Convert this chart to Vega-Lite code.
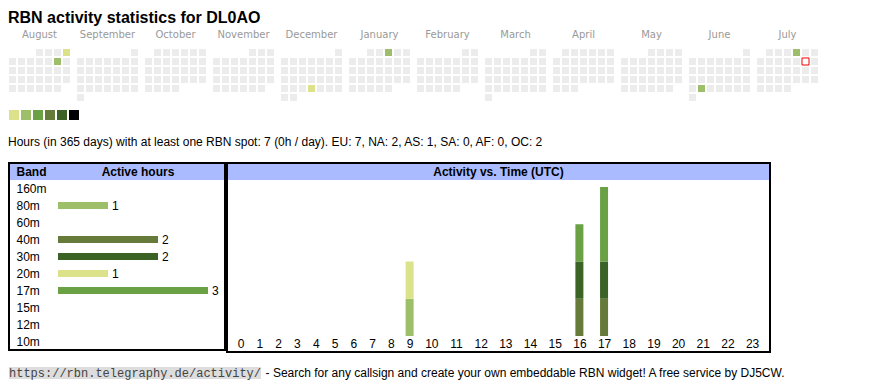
{
"$schema": "https://vega.github.io/schema/vega-lite/v6.json",
"background": "white",
"padding": {"left": 8, "top": 10, "right": 5, "bottom": 2},
"config": {"font": "Liberation Sans", "view": {"stroke": null}, "title": {"fontSize": 16}},
"title": {"text": "RBN activity statistics for DL0AO", "anchor": "start", "fontSize": 16, "fontWeight": "bold", "font": "Liberation Sans", "color": "#000", "offset": 4},
"datasets": {
"cal": [
{"m":"August","r":0,"c":3},{"m":"August","r":0,"c":4},{"m":"August","r":0,"c":5},{"m":"August","r":0,"c":6,"v":1},
{"m":"August","r":1,"c":0},{"m":"August","r":1,"c":1},{"m":"August","r":1,"c":2},{"m":"August","r":1,"c":3},{"m":"August","r":1,"c":4},{"m":"August","r":1,"c":5,"v":2},{"m":"August","r":1,"c":6},
{"m":"August","r":2,"c":0},{"m":"August","r":2,"c":1},{"m":"August","r":2,"c":2},{"m":"August","r":2,"c":3},{"m":"August","r":2,"c":4},{"m":"August","r":2,"c":5},{"m":"August","r":2,"c":6},
{"m":"August","r":3,"c":0},{"m":"August","r":3,"c":1},{"m":"August","r":3,"c":2},{"m":"August","r":3,"c":3},{"m":"August","r":3,"c":4},{"m":"August","r":3,"c":5},{"m":"August","r":3,"c":6},
{"m":"August","r":4,"c":0},{"m":"August","r":4,"c":1},{"m":"August","r":4,"c":2},{"m":"August","r":4,"c":3},{"m":"August","r":4,"c":4},{"m":"August","r":4,"c":5},
{"m":"September","r":0,"c":6},
{"m":"September","r":1,"c":0},{"m":"September","r":1,"c":1},{"m":"September","r":1,"c":2},{"m":"September","r":1,"c":3},{"m":"September","r":1,"c":4},{"m":"September","r":1,"c":5},{"m":"September","r":1,"c":6},
{"m":"September","r":2,"c":0},{"m":"September","r":2,"c":1},{"m":"September","r":2,"c":2},{"m":"September","r":2,"c":3},{"m":"September","r":2,"c":4},{"m":"September","r":2,"c":5},{"m":"September","r":2,"c":6},
{"m":"September","r":3,"c":0},{"m":"September","r":3,"c":1},{"m":"September","r":3,"c":2},{"m":"September","r":3,"c":3},{"m":"September","r":3,"c":4},{"m":"September","r":3,"c":5},{"m":"September","r":3,"c":6},
{"m":"September","r":4,"c":0},{"m":"September","r":4,"c":1},{"m":"September","r":4,"c":2},{"m":"September","r":4,"c":3},{"m":"September","r":4,"c":4},{"m":"September","r":4,"c":5},{"m":"September","r":4,"c":6},
{"m":"September","r":5,"c":0},
{"m":"October","r":0,"c":1},{"m":"October","r":0,"c":2},{"m":"October","r":0,"c":3},{"m":"October","r":0,"c":4},{"m":"October","r":0,"c":5},{"m":"October","r":0,"c":6},
{"m":"October","r":1,"c":0},{"m":"October","r":1,"c":1},{"m":"October","r":1,"c":2},{"m":"October","r":1,"c":3},{"m":"October","r":1,"c":4},{"m":"October","r":1,"c":5},{"m":"October","r":1,"c":6},
{"m":"October","r":2,"c":0},{"m":"October","r":2,"c":1},{"m":"October","r":2,"c":2},{"m":"October","r":2,"c":3},{"m":"October","r":2,"c":4},{"m":"October","r":2,"c":5},{"m":"October","r":2,"c":6},
{"m":"October","r":3,"c":0},{"m":"October","r":3,"c":1},{"m":"October","r":3,"c":2},{"m":"October","r":3,"c":3},{"m":"October","r":3,"c":4},{"m":"October","r":3,"c":5},{"m":"October","r":3,"c":6},
{"m":"October","r":4,"c":0},{"m":"October","r":4,"c":1},{"m":"October","r":4,"c":2},{"m":"October","r":4,"c":3},
{"m":"November","r":0,"c":4},{"m":"November","r":0,"c":5},{"m":"November","r":0,"c":6},
{"m":"November","r":1,"c":0},{"m":"November","r":1,"c":1},{"m":"November","r":1,"c":2},{"m":"November","r":1,"c":3},{"m":"November","r":1,"c":4},{"m":"November","r":1,"c":5},{"m":"November","r":1,"c":6},
{"m":"November","r":2,"c":0},{"m":"November","r":2,"c":1},{"m":"November","r":2,"c":2},{"m":"November","r":2,"c":3},{"m":"November","r":2,"c":4},{"m":"November","r":2,"c":5},{"m":"November","r":2,"c":6},
{"m":"November","r":3,"c":0},{"m":"November","r":3,"c":1},{"m":"November","r":3,"c":2},{"m":"November","r":3,"c":3},{"m":"November","r":3,"c":4},{"m":"November","r":3,"c":5},{"m":"November","r":3,"c":6},
{"m":"November","r":4,"c":0},{"m":"November","r":4,"c":1},{"m":"November","r":4,"c":2},{"m":"November","r":4,"c":3},{"m":"November","r":4,"c":4},{"m":"November","r":4,"c":5},
{"m":"December","r":0,"c":6},
{"m":"December","r":1,"c":0},{"m":"December","r":1,"c":1},{"m":"December","r":1,"c":2},{"m":"December","r":1,"c":3},{"m":"December","r":1,"c":4},{"m":"December","r":1,"c":5},{"m":"December","r":1,"c":6},
{"m":"December","r":2,"c":0},{"m":"December","r":2,"c":1},{"m":"December","r":2,"c":2},{"m":"December","r":2,"c":3},{"m":"December","r":2,"c":4},{"m":"December","r":2,"c":5},{"m":"December","r":2,"c":6},
{"m":"December","r":3,"c":0},{"m":"December","r":3,"c":1},{"m":"December","r":3,"c":2},{"m":"December","r":3,"c":3},{"m":"December","r":3,"c":4},{"m":"December","r":3,"c":5},{"m":"December","r":3,"c":6},
{"m":"December","r":4,"c":0},{"m":"December","r":4,"c":1},{"m":"December","r":4,"c":2},{"m":"December","r":4,"c":3,"v":1},{"m":"December","r":4,"c":4},{"m":"December","r":4,"c":5},{"m":"December","r":4,"c":6},
{"m":"December","r":5,"c":0},{"m":"December","r":5,"c":1},
{"m":"January","r":0,"c":2},{"m":"January","r":0,"c":3},{"m":"January","r":0,"c":4,"v":2},{"m":"January","r":0,"c":5},{"m":"January","r":0,"c":6},
{"m":"January","r":1,"c":0},{"m":"January","r":1,"c":1},{"m":"January","r":1,"c":2},{"m":"January","r":1,"c":3},{"m":"January","r":1,"c":4},{"m":"January","r":1,"c":5},{"m":"January","r":1,"c":6},
{"m":"January","r":2,"c":0},{"m":"January","r":2,"c":1},{"m":"January","r":2,"c":2},{"m":"January","r":2,"c":3},{"m":"January","r":2,"c":4},{"m":"January","r":2,"c":5},{"m":"January","r":2,"c":6},
{"m":"January","r":3,"c":0},{"m":"January","r":3,"c":1},{"m":"January","r":3,"c":2},{"m":"January","r":3,"c":3},{"m":"January","r":3,"c":4},{"m":"January","r":3,"c":5},{"m":"January","r":3,"c":6},
{"m":"January","r":4,"c":0},{"m":"January","r":4,"c":1},{"m":"January","r":4,"c":2},{"m":"January","r":4,"c":3},{"m":"January","r":4,"c":4},
{"m":"February","r":0,"c":5},{"m":"February","r":0,"c":6},
{"m":"February","r":1,"c":0},{"m":"February","r":1,"c":1},{"m":"February","r":1,"c":2},{"m":"February","r":1,"c":3},{"m":"February","r":1,"c":4},{"m":"February","r":1,"c":5},{"m":"February","r":1,"c":6},
{"m":"February","r":2,"c":0},{"m":"February","r":2,"c":1},{"m":"February","r":2,"c":2},{"m":"February","r":2,"c":3},{"m":"February","r":2,"c":4},{"m":"February","r":2,"c":5},{"m":"February","r":2,"c":6},
{"m":"February","r":3,"c":0},{"m":"February","r":3,"c":1},{"m":"February","r":3,"c":2},{"m":"February","r":3,"c":3},{"m":"February","r":3,"c":4},{"m":"February","r":3,"c":5},{"m":"February","r":3,"c":6},
{"m":"February","r":4,"c":0},{"m":"February","r":4,"c":1},{"m":"February","r":4,"c":2},{"m":"February","r":4,"c":3},{"m":"February","r":4,"c":4},
{"m":"March","r":0,"c":5},{"m":"March","r":0,"c":6},
{"m":"March","r":1,"c":0},{"m":"March","r":1,"c":1},{"m":"March","r":1,"c":2},{"m":"March","r":1,"c":3},{"m":"March","r":1,"c":4},{"m":"March","r":1,"c":5},{"m":"March","r":1,"c":6},
{"m":"March","r":2,"c":0},{"m":"March","r":2,"c":1},{"m":"March","r":2,"c":2},{"m":"March","r":2,"c":3},{"m":"March","r":2,"c":4},{"m":"March","r":2,"c":5},{"m":"March","r":2,"c":6},
{"m":"March","r":3,"c":0},{"m":"March","r":3,"c":1},{"m":"March","r":3,"c":2},{"m":"March","r":3,"c":3},{"m":"March","r":3,"c":4},{"m":"March","r":3,"c":5},{"m":"March","r":3,"c":6},
{"m":"March","r":4,"c":0},{"m":"March","r":4,"c":1},{"m":"March","r":4,"c":2},{"m":"March","r":4,"c":3},{"m":"March","r":4,"c":4},{"m":"March","r":4,"c":5},{"m":"March","r":4,"c":6},
{"m":"March","r":5,"c":0},
{"m":"April","r":0,"c":1},{"m":"April","r":0,"c":2},{"m":"April","r":0,"c":3},{"m":"April","r":0,"c":4},{"m":"April","r":0,"c":5},{"m":"April","r":0,"c":6},
{"m":"April","r":1,"c":0},{"m":"April","r":1,"c":1},{"m":"April","r":1,"c":2},{"m":"April","r":1,"c":3},{"m":"April","r":1,"c":4},{"m":"April","r":1,"c":5},{"m":"April","r":1,"c":6},
{"m":"April","r":2,"c":0},{"m":"April","r":2,"c":1},{"m":"April","r":2,"c":2},{"m":"April","r":2,"c":3},{"m":"April","r":2,"c":4},{"m":"April","r":2,"c":5},{"m":"April","r":2,"c":6},
{"m":"April","r":3,"c":0},{"m":"April","r":3,"c":1},{"m":"April","r":3,"c":2},{"m":"April","r":3,"c":3},{"m":"April","r":3,"c":4},{"m":"April","r":3,"c":5},{"m":"April","r":3,"c":6},
{"m":"April","r":4,"c":0},{"m":"April","r":4,"c":1},{"m":"April","r":4,"c":2},
{"m":"May","r":0,"c":3},{"m":"May","r":0,"c":4},{"m":"May","r":0,"c":5},{"m":"May","r":0,"c":6},
{"m":"May","r":1,"c":0},{"m":"May","r":1,"c":1},{"m":"May","r":1,"c":2},{"m":"May","r":1,"c":3},{"m":"May","r":1,"c":4},{"m":"May","r":1,"c":5},{"m":"May","r":1,"c":6},
{"m":"May","r":2,"c":0},{"m":"May","r":2,"c":1},{"m":"May","r":2,"c":2},{"m":"May","r":2,"c":3},{"m":"May","r":2,"c":4},{"m":"May","r":2,"c":5},{"m":"May","r":2,"c":6},
{"m":"May","r":3,"c":0},{"m":"May","r":3,"c":1},{"m":"May","r":3,"c":2},{"m":"May","r":3,"c":3},{"m":"May","r":3,"c":4},{"m":"May","r":3,"c":5},{"m":"May","r":3,"c":6},
{"m":"May","r":4,"c":0},{"m":"May","r":4,"c":1},{"m":"May","r":4,"c":2},{"m":"May","r":4,"c":3},{"m":"May","r":4,"c":4},{"m":"May","r":4,"c":5},
{"m":"June","r":0,"c":6},
{"m":"June","r":1,"c":0},{"m":"June","r":1,"c":1},{"m":"June","r":1,"c":2},{"m":"June","r":1,"c":3},{"m":"June","r":1,"c":4},{"m":"June","r":1,"c":5},{"m":"June","r":1,"c":6},
{"m":"June","r":2,"c":0},{"m":"June","r":2,"c":1},{"m":"June","r":2,"c":2},{"m":"June","r":2,"c":3},{"m":"June","r":2,"c":4},{"m":"June","r":2,"c":5},{"m":"June","r":2,"c":6},
{"m":"June","r":3,"c":0},{"m":"June","r":3,"c":1},{"m":"June","r":3,"c":2},{"m":"June","r":3,"c":3},{"m":"June","r":3,"c":4},{"m":"June","r":3,"c":5},{"m":"June","r":3,"c":6},
{"m":"June","r":4,"c":0},{"m":"June","r":4,"c":1,"v":2},{"m":"June","r":4,"c":2},{"m":"June","r":4,"c":3},{"m":"June","r":4,"c":4},{"m":"June","r":4,"c":5},{"m":"June","r":4,"c":6},
{"m":"June","r":5,"c":0},
{"m":"July","r":0,"c":1},{"m":"July","r":0,"c":2},{"m":"July","r":0,"c":3},{"m":"July","r":0,"c":4,"v":2},{"m":"July","r":0,"c":5},{"m":"July","r":0,"c":6},
{"m":"July","r":1,"c":0},{"m":"July","r":1,"c":1},{"m":"July","r":1,"c":2},{"m":"July","r":1,"c":3},{"m":"July","r":1,"c":4},{"m":"July","r":1,"c":5,"v":-1},{"m":"July","r":1,"c":6},
{"m":"July","r":2,"c":0},{"m":"July","r":2,"c":1},{"m":"July","r":2,"c":2},{"m":"July","r":2,"c":3},{"m":"July","r":2,"c":4},{"m":"July","r":2,"c":5},{"m":"July","r":2,"c":6},
{"m":"July","r":3,"c":0},{"m":"July","r":3,"c":1},{"m":"July","r":3,"c":2},{"m":"July","r":3,"c":3},{"m":"July","r":3,"c":4},{"m":"July","r":3,"c":5},{"m":"July","r":3,"c":6},
{"m":"July","r":4,"c":0},{"m":"July","r":4,"c":1},{"m":"July","r":4,"c":2},{"m":"July","r":4,"c":3}
],
"bands": [{"band":"80m","hours":1},{"band":"40m","hours":2},{"band":"30m","hours":2},{"band":"20m","hours":1},{"band":"17m","hours":3}],
"hourly": [{"hour":9,"band":"80m","w":80,"n":1},{"hour":9,"band":"20m","w":20,"n":1},{"hour":16,"band":"40m","w":40,"n":1},{"hour":16,"band":"30m","w":30,"n":1},{"hour":16,"band":"17m","w":17,"n":1},{"hour":17,"band":"40m","w":40,"n":1},{"hour":17,"band":"30m","w":30,"n":1},{"hour":17,"band":"17m","w":17,"n":2}],
"levels": [{"lv":1},{"lv":2},{"lv":3},{"lv":4},{"lv":5},{"lv":6}]
},
"resolve": {"scale": {"color": "independent", "fill": "independent"}},
"spacing": 16,
"vconcat": [
{
"spacing": 9,
"vconcat": [
{
"data": {"name": "cal"},
"facet": {"column": {"field": "m", "type": "nominal", "sort": ["August","September","October","November","December","January","February","March","April","May","June","July"], "header": {"title": null, "labelFont": "DejaVu Sans", "labelFontSize": 10, "labelColor": "#999999", "labelPadding": 8}}},
"spacing": {"column": 6},
"spec": {
"width": 61, "height": 52,
"layer": [
{"mark": {"type": "rect", "fill": "#ececec"},
"encoding": {
"x": {"field": "c", "type": "ordinal", "scale": {"domain": [0,1,2,3,4,5,6], "paddingInner": 0.2222, "paddingOuter": 0}, "axis": null},
"y": {"field": "r", "type": "ordinal", "scale": {"domain": [0,1,2,3,4,5], "paddingInner": 0.2222, "paddingOuter": 0}, "axis": null}}},
{"transform": [{"filter": "isValid(datum.v)"}],
"mark": {"type": "rect", "strokeWidth": 1},
"encoding": {
"x": {"field": "c", "type": "ordinal", "scale": {"domain": [0,1,2,3,4,5,6], "paddingInner": 0.2222, "paddingOuter": 0}, "axis": null},
"y": {"field": "r", "type": "ordinal", "scale": {"domain": [0,1,2,3,4,5], "paddingInner": 0.2222, "paddingOuter": 0}, "axis": null},
"fill": {"condition": [{"test": "datum.v === 1", "value": "#dbe28a"}, {"test": "datum.v === 2", "value": "#9dbf6a"}], "value": "#ffffff"},
"stroke": {"condition": {"test": "datum.v < 0", "value": "#ee0000"}, "value": "transparent"}}}
]
}
},
{
"data": {"name": "levels"},
"width": 70, "height": 10,
"mark": "rect",
"encoding": {
"x": {"field": "lv", "type": "ordinal", "scale": {"paddingInner": 0.1667, "paddingOuter": 0}, "axis": null},
"color": {"field": "lv", "type": "ordinal", "scale": {"domain": [1,2,3,4,5,6], "range": ["#dbe28a","#9dbf6a","#6aa145","#667a3a","#3b6326","#000000"]}, "legend": null}
}
}
]
},
{
"spacing": 14,
"vconcat": [
{
"title": {"text": "Hours (in 365 days) with at least one RBN spot: 7 (0h / day). EU: 7, NA: 2, AS: 1, SA: 0, AF: 0, OC: 2", "anchor": "start", "fontSize": 12, "fontWeight": "normal", "font": "Liberation Sans", "color": "#000", "offset": 13},
"spacing": 0,
"hconcat": [
{
"width": 216, "height": 187,
"layer": [
{"data": {"values": [{"band": "Band"}]}, "mark": {"type": "rect", "fill": "#aabbff"},
"encoding": {"y": {"field": "band", "type": "nominal", "scale": {"domain": ["Band","160m","80m","60m","40m","30m","20m","17m","15m","12m","10m"], "paddingInner": 0, "paddingOuter": 0}, "axis": {"orient": "left", "title": null, "domain": false, "ticks": false, "tickSize": 0, "grid": false, "labelPadding": -7, "labelAlign": "left", "labelFontSize": 12, "labelFont": "Liberation Sans", "labelColor": "#000", "labelFontWeight": {"condition": {"test": "datum.value === 'Band'", "value": "bold"}, "value": "normal"}, "zindex": 1}}}},
{"data": {"values": [{"band": "Band"}]}, "mark": {"type": "text", "text": "Active hours", "fontWeight": "bold", "fontSize": 12, "color": "#000"},
"encoding": {"y": {"field": "band", "type": "nominal", "scale": {"domain": ["Band","160m","80m","60m","40m","30m","20m","17m","15m","12m","10m"], "paddingInner": 0, "paddingOuter": 0}, "axis": {"orient": "left", "title": null, "domain": false, "ticks": false, "tickSize": 0, "grid": false, "labelPadding": -7, "labelAlign": "left", "labelFontSize": 12, "labelFont": "Liberation Sans", "labelColor": "#000", "labelFontWeight": {"condition": {"test": "datum.value === 'Band'", "value": "bold"}, "value": "normal"}, "zindex": 1}},
"x": {"datum": 1.6, "type": "quantitative", "scale": {"domain": [-0.98, 3.34], "nice": false, "zero": false}, "axis": null}}},
{"data": {"name": "bands"}, "mark": {"type": "bar", "height": 7},
"encoding": {"y": {"field": "band", "type": "nominal", "scale": {"domain": ["Band","160m","80m","60m","40m","30m","20m","17m","15m","12m","10m"], "paddingInner": 0, "paddingOuter": 0}, "axis": {"orient": "left", "title": null, "domain": false, "ticks": false, "tickSize": 0, "grid": false, "labelPadding": -7, "labelAlign": "left", "labelFontSize": 12, "labelFont": "Liberation Sans", "labelColor": "#000", "labelFontWeight": {"condition": {"test": "datum.value === 'Band'", "value": "bold"}, "value": "normal"}, "zindex": 1}},
"x": {"field": "hours", "type": "quantitative", "scale": {"domain": [-0.98, 3.34], "nice": false, "zero": false}, "axis": null},
"color": {"field": "band", "type": "nominal", "scale": {"domain": ["80m","40m","30m","20m","17m"], "range": ["#9dbf6a","#667a3a","#3b6326","#dbe28a","#6aa145"]}, "legend": null}}},
{"data": {"name": "bands"}, "mark": {"type": "text", "align": "left", "dx": 4, "fontSize": 12, "color": "#000"},
"encoding": {"y": {"field": "band", "type": "nominal", "scale": {"domain": ["Band","160m","80m","60m","40m","30m","20m","17m","15m","12m","10m"], "paddingInner": 0, "paddingOuter": 0}, "axis": {"orient": "left", "title": null, "domain": false, "ticks": false, "tickSize": 0, "grid": false, "labelPadding": -7, "labelAlign": "left", "labelFontSize": 12, "labelFont": "Liberation Sans", "labelColor": "#000", "labelFontWeight": {"condition": {"test": "datum.value === 'Band'", "value": "bold"}, "value": "normal"}, "zindex": 1}},
"x": {"field": "hours", "type": "quantitative", "scale": {"domain": [-0.98, 3.34], "nice": false, "zero": false}, "axis": null},
"text": {"field": "hours", "type": "quantitative"}}},
{"data": {"values": [{"o": 1}]}, "mark": {"type": "rect", "filled": false, "stroke": "#000", "strokeWidth": 2}, "encoding": {}}
]
},
{
"width": 543, "height": 189,
"layer": [
{"data": {"values": [{"o": 1}]}, "mark": {"type": "rect", "fill": "#aabbff"},
"encoding": {"y": {"datum": 4.188, "type": "quantitative", "scale": {"domain": [-0.4295, 4.644], "nice": false, "zero": false}, "axis": null}, "y2": {"datum": 4.644}}},
{"data": {"values": [{"o": 1}]}, "mark": {"type": "text", "text": "Activity vs. Time (UTC)", "fontWeight": "bold", "fontSize": 12, "color": "#000", "baseline": "middle"},
"encoding": {"y": {"datum": 4.403, "type": "quantitative", "scale": {"domain": [-0.4295, 4.644], "nice": false, "zero": false}, "axis": null}}},
{"data": {"name": "hourly"}, "mark": {"type": "bar", "width": 8},
"encoding": {
"x": {"field": "hour", "type": "quantitative", "scale": {"domain": [-0.5, 9.5, 23.5], "range": [0, 192, 543], "nice": false, "zero": false}, "axis": {"values": [0,1,2,3,4,5,6,7,8,9,10,11,12,13,14,15,16,17,18,19,20,21,22,23], "format": "d", "orient": "bottom", "offset": -9, "labelPadding": 0, "tickSize": 0, "ticks": false, "domain": false, "grid": false, "title": null, "labelFontSize": 12, "labelFont": "Liberation Sans", "labelColor": "#000", "labelBaseline": "middle", "labelFlush": false, "labelOverlap": false, "zindex": 1}},
"y": {"field": "n", "type": "quantitative", "stack": "zero", "scale": {"domain": [-0.4295, 4.644], "nice": false, "zero": false}, "axis": null},
"color": {"field": "band", "type": "nominal", "scale": {"domain": ["80m","40m","30m","20m","17m"], "range": ["#9dbf6a","#667a3a","#3b6326","#dbe28a","#6aa145"]}, "legend": null},
"order": {"field": "w", "sort": "descending"}}},
{"data": {"values": [{"o": 1}]}, "mark": {"type": "rect", "filled": false, "stroke": "#000", "strokeWidth": 2}, "encoding": {}}
]
}
]
},
{
"spacing": 0,
"hconcat": [
{"width": 252, "height": 12, "view": {"fill": "#dddddd", "stroke": null},
"data": {"values": [{"t": "https://rbn.telegraphy.de/activity/"}]},
"mark": {"type": "text", "font": "Liberation Mono", "fontSize": 12, "color": "#444444", "baseline": "middle"},
"encoding": {"text": {"field": "t", "type": "nominal"}}},
{"width": 526, "height": 12,
"data": {"values": [{"t": "- Search for any callsign and create your own embeddable RBN widget! A free service by DJ5CW."}]},
"mark": {"type": "text", "font": "Liberation Sans", "fontSize": 12, "color": "#000", "baseline": "middle"},
"encoding": {"text": {"field": "t", "type": "nominal"}}}
]
}
]
}
]
}
